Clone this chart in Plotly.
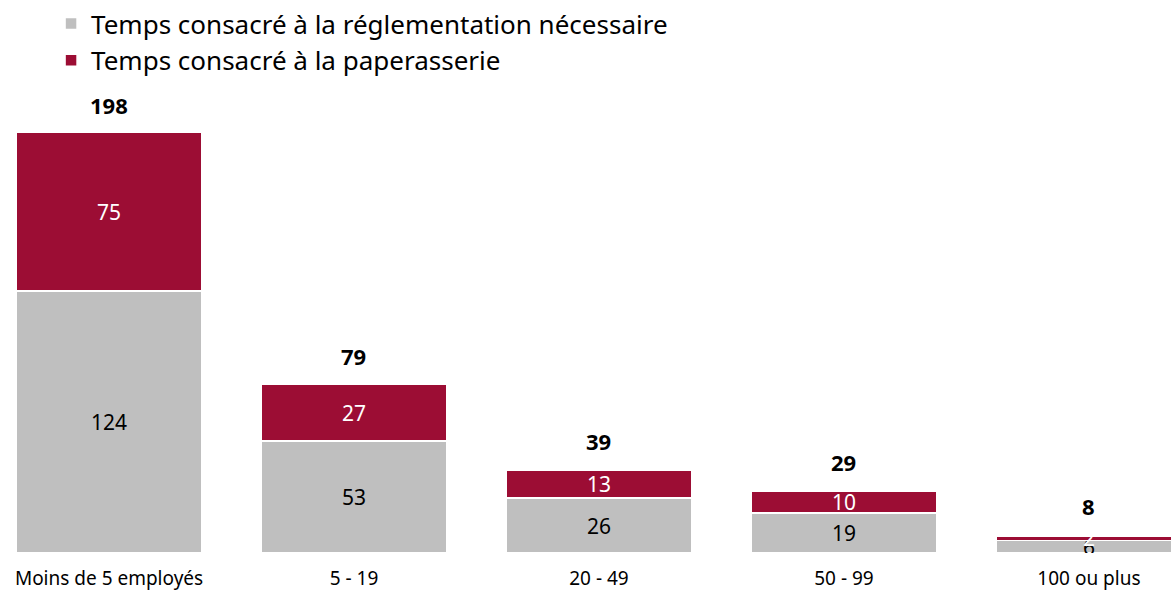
import plotly.graph_objects as go

categories = ["Moins de 5 employés", "5 - 19", "20 - 49", "50 - 99", "100 ou plus"]
necessaire = [124, 53, 26, 19, 6]
paperasserie = [75, 27, 13, 10, 2]
totals = [198, 79, 39, 29, 8]

GRAY = "#BFBFBF"
RED = "#9C0D34"
FONT = "Noto Sans"

fig = go.Figure()
fig.add_trace(go.Bar(
    x=categories, y=necessaire, name="Temps consacré à la réglementation nécessaire",
    marker=dict(color=GRAY, line=dict(color="white", width=1.5)),
    text=necessaire, textposition="inside", insidetextanchor="middle", textangle=0,
    textfont=dict(color="black", size=21, family=FONT), hoverinfo="skip",
))
fig.add_trace(go.Bar(
    x=categories, y=paperasserie, name="Temps consacré à la paperasserie",
    marker=dict(color=RED, line=dict(color="white", width=1.5)),
    text=paperasserie, textposition="inside", insidetextanchor="middle", textangle=0,
    textfont=dict(color="white", size=21, family=FONT), hoverinfo="skip",
))
for c, t in zip(categories, totals):
    fig.add_annotation(x=c, y=t, text=f"<b>{t}</b>", showarrow=False,
                       yanchor="bottom", yshift=13,
                       font=dict(size=22, color="black", family=FONT))

fig.update_layout(
    barmode="stack", bargap=0.24,
    width=1171, height=591,
    margin=dict(l=0, r=0, t=80, b=38),
    plot_bgcolor="white", paper_bgcolor="white",
    font=dict(family=FONT, color="black"),
    uniformtext=dict(minsize=21, mode="show"),
    legend=dict(x=0.0436, y=1.01, xanchor="left", yanchor="top",
                yref="container", orientation="v", traceorder="normal",
                font=dict(size=26, color="black", family=FONT),
                itemwidth=30, tracegroupgap=0,
                bgcolor="rgba(0,0,0,0)"),
    showlegend=True,
)
fig.update_xaxes(range=[-0.445, 4.335], showline=False, ticks="",
                 ticklabelstandoff=12,
                 tickfont=dict(size=19, family=FONT, color="black"), showgrid=False)
fig.update_yaxes(range=[0, 222], visible=False, showgrid=False)

fig.write_html("out.html")
